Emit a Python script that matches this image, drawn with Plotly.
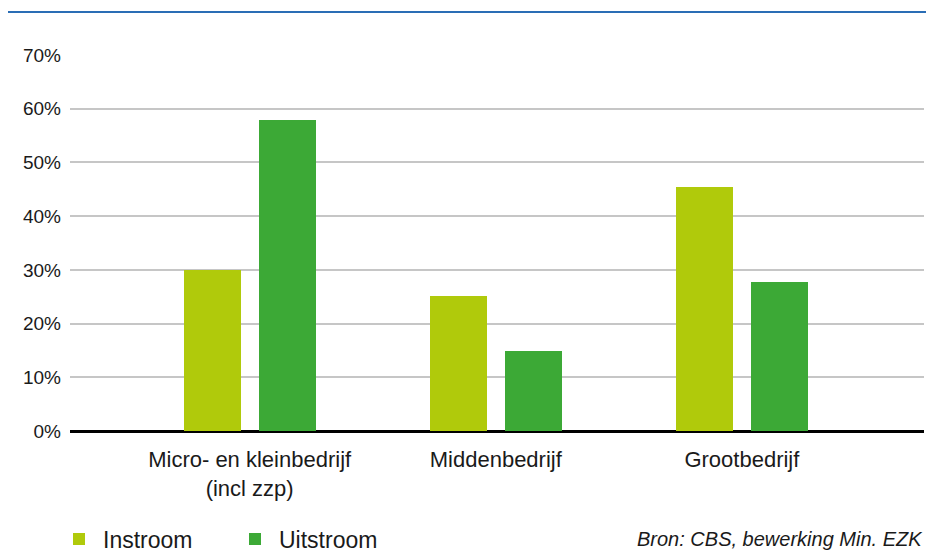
import plotly.graph_objects as go

categories = ["Micro- en kleinbedrijf<br>(incl zzp)", "Middenbedrijf", "Grootbedrijf"]
instroom = [30.0, 25.1, 45.4]
uitstroom = [57.9, 14.9, 27.7]
y_ticks = [0, 10, 20, 30, 40, 50, 60, 70]
y_tick_labels = ["0%", "10%", "20%", "30%", "40%", "50%", "60%", "70%"]
source_text = "Bron: CBS, bewerking Min. EZK"

FONT = "Liberation Sans, Arial, sans-serif"
xpos = list(range(len(categories)))

fig = go.Figure()
fig.add_trace(go.Bar(x=xpos, y=instroom, name="Instroom", marker_color="#b0ca0b",
                     width=0.232, offset=-0.268, marker_line_width=0))
fig.add_trace(go.Bar(x=xpos, y=uitstroom, name="Uitstroom", marker_color="#3ca936",
                     width=0.232, offset=0.036, marker_line_width=0))

PLOT_H = 376
PLOT_W = 854
LEG_Y = -108 / PLOT_H
fig.update_layout(
    width=926, height=553,
    margin=dict(l=70, r=2, t=55, b=122, autoexpand=False),
    plot_bgcolor="white", paper_bgcolor="white",
    font=dict(family=FONT, color="#1a1a1a", size=19),
    showlegend=True,
    legend=dict(orientation="h", x=-15 / PLOT_W, xanchor="left", y=LEG_Y, yanchor="middle",
                font=dict(size=23, color="#1a1a1a"), itemwidth=38,
                entrywidth=123, entrywidthmode="pixels",
                traceorder="normal"),
    bargap=0,
)
fig.update_xaxes(
    range=[-0.73, 2.74], tickmode="array", tickvals=xpos, ticktext=categories,
    showgrid=False, zeroline=False, showline=False, ticks="",
    tickfont=dict(size=22), ticklabelstandoff=13,
)
fig.update_yaxes(
    range=[0, 70], tickmode="array", tickvals=y_ticks, ticktext=y_tick_labels,
    showgrid=True, gridcolor="#c6c6c6", gridwidth=2,
    zeroline=True, zerolinecolor="#000000", zerolinewidth=3,
    showline=False, ticks="", ticklabelstandoff=8, tickfont=dict(size=19),
)
fig.add_shape(type="line", xref="paper", yref="paper", x0=-62 / PLOT_W, x1=1 + 2 / PLOT_W,
              y0=1 + 43 / PLOT_H, y1=1 + 43 / PLOT_H, line=dict(color="#2a6db5", width=2))
fig.add_annotation(text="<i>" + source_text + "</i>", xref="paper", yref="paper",
                   x=1 + 1 / PLOT_W, xanchor="right", y=LEG_Y, yanchor="middle",
                   showarrow=False, font=dict(size=20, color="#1a1a1a"))

fig.write_html("out.html", config={"displayModeBar": False},
               post_script="document.body.style.margin='0';document.body.style.overflow='hidden';")
